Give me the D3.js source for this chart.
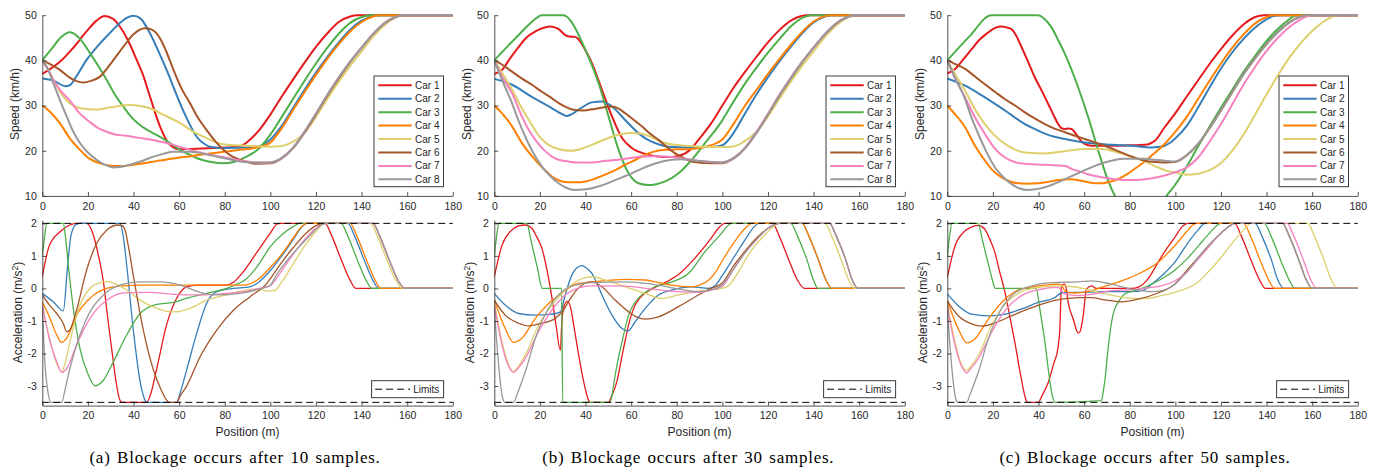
<!DOCTYPE html>
<html><head><meta charset="utf-8">
<script src="https://cdn.jsdelivr.net/npm/d3@7"></script>
<style>
body{margin:0;background:#fff;}
svg{display:block;}
text{font-family:"Liberation Sans",Arial,Helvetica,sans-serif;fill:#262626;}
.cap{font-family:"Liberation Serif","Times New Roman",serif;fill:#000;}
</style></head><body>
<svg id="chart" width="1374" height="474"></svg>
<script>
// ---------- labels / ticks ----------
const cars = ["Car 1","Car 2","Car 3","Car 4","Car 5","Car 6","Car 7","Car 8"];
const carColors = ["#e41a1c","#377eb8","#4daf4a","#ff7f00","#ddd06c","#a65628","#f781bf","#999999"];
const xTicks = [0,20,40,60,80,100,120,140,160,180];
const speedTicks = [10,20,30,40,50];
const accTicks = [-3,-2,-1,0,1,2];
const accLimits = [2,-3.5];
const captions = ["(a) Blockage occurs after 10 samples.","(b) Blockage occurs after 30 samples.","(c) Blockage occurs after 50 samples."];

// ---------- (a) speed ----------
const speedA1 = [[0,37],[4,38.3],[8,39.8],[13.6,42.8],[19.4,46.4],[23.8,48.8],[27.3,49.8],[31,49.2],[34,47.5],[37.5,44.5],[41.4,40.1],[44,37],[47.2,32],[51.6,25.4],[55.3,21.7],[60.4,20.3],[65,20.4],[75,20.6],[84,20.8],[87,21],[90,22],[95,24.5],[100,28],[105,32],[110,35.8],[115,39.5],[120,43],[125,46],[130,48.5],[135,49.7],[138,50],[180,50]];
const speedA2 = [[0,36],[5,35.5],[10,34.3],[12,34.5],[15,36.5],[19.4,40.1],[24,43],[28.2,45.3],[33,47.8],[37,49.4],[40,49.9],[43,49.3],[47.2,46],[50.5,42.5],[54.5,37.9],[60.4,30.5],[64,26.5],[67.7,23.1],[70.5,21.7],[73.5,20.9],[80,20.6],[90,20.7],[95,21],[100,22.5],[105,25.5],[110,29.5],[115,33.5],[120,37.3],[125,40.8],[130,44],[135,46.8],[140,48.8],[145,49.8],[148,50],[180,50]];
const speedA3 = [[0,40],[4,42.5],[8,45],[12.1,46.2],[15,45.5],[18,43.8],[20.9,41.6],[24.5,38.8],[28.2,35.7],[32,32.3],[35.5,29.8],[39,27.5],[42.8,25.7],[46,24.6],[50.1,23.5],[55,22],[60.4,20.2],[65,19],[69.2,18.1],[74,17.5],[79.4,17.2],[84,17.5],[89.6,18.7],[95,20.5],[99.9,23.5],[105,27.5],[110,31.5],[115,35.5],[120,39.3],[125,42.8],[130,45.9],[135,48.3],[140,49.6],[144,50],[180,50]];
const speedA4 = [[0,30],[3,28.8],[7.7,26.1],[12,22.8],[16.5,20.2],[20.5,18.3],[25.3,17.2],[30,16.7],[35,16.6],[42.8,17.1],[50,17.7],[57.5,18.3],[65,18.8],[72,19.3],[80,19.8],[86.7,20.2],[95,20.8],[100,21.8],[105,25],[110,29],[115,33],[120,36.8],[125,40.4],[130,43.6],[135,46.4],[140,48.5],[145,49.7],[148,50],[180,50]];
const speedA5 = [[0,40],[3,37.6],[5,35.6],[9.2,32],[12,30.5],[16,29.5],[20,29.2],[23.8,29.1],[30,29.6],[35,30],[38.5,30.1],[43,29.9],[47.2,29.4],[53,28],[60.4,26.1],[66,24.3],[72,22.8],[76,21.9],[80.8,21.3],[90,21.1],[99.9,20.9],[104,21],[107,21.3],[110,22],[115,24],[120,27.5],[125,31.5],[130,35.3],[135,38.8],[140,42],[145,45.2],[150,47.8],[155,49.5],[158,50],[180,50]];
const speedA6 = [[0,40],[3,39.3],[7.7,37.9],[12,36.2],[15,35.4],[18,35.1],[21,35.4],[25.3,36.4],[30,39.3],[35.5,43],[40,45.8],[45,47.1],[48,46.8],[51.6,44.9],[54.5,41.8],[57.5,37.9],[61,33.8],[64.8,30.5],[68,27.5],[72,24.6],[76,22],[79.4,20.2],[83,18.8],[86.7,18],[90,17.5],[94,17.1],[99.9,17.2],[105,18.3],[110,20.6],[115,24],[120,28],[125,32.2],[130,36],[135,39.6],[140,42.8],[145,45.8],[150,48.2],[155,49.6],[158,50],[180,50]];
const speedA7 = [[0,40],[2.5,38],[4.8,35.7],[8,33.3],[12.1,31.1],[16,28.5],[21,26.3],[24.5,25],[28.2,24.2],[32,23.6],[37,23.3],[42,22.9],[47.2,22.5],[52,22],[57.5,21.3],[62,20.6],[67.7,19.8],[72,19.3],[77.9,18.7],[84,18.1],[89.6,17.6],[95,17.4],[100,17.4],[105,18.4],[110,20.7],[115,24.2],[120,28.2],[125,32.4],[130,36.2],[135,39.7],[140,42.8],[145,45.8],[150,48.2],[155,49.6],[158,50],[180,50]];
const speedA8 = [[0,40],[2.5,38],[4.8,35],[7.5,31.5],[10.7,27.6],[13.5,24.3],[16.5,21.7],[20,19.6],[23.8,18],[27,17],[31.1,16.3],[34,16.4],[38.5,16.9],[43,17.6],[48.7,18.7],[53,19.3],[57.5,19.8],[64.8,19.8],[70,19.4],[76.5,18.7],[82,18.1],[86.7,17.6],[93,17.4],[99.9,17.4],[105,18.4],[110,20.7],[115,24.2],[120,28.2],[125,32.4],[130,36.2],[135,39.7],[140,42.8],[145,45.8],[150,48.2],[155,49.6],[158,50],[180,50]];

// ---------- (a) acceleration ----------
const accA1 = [[0,0.36],[3,1.3],[7.8,1.74],[12,1.95],[15,2],[19.5,2],[22.4,1.64],[24.5,1.05],[26.8,0.2],[28.5,-0.8],[30.4,-1.84],[32.2,-2.8],[34,-3.43],[35,-3.5],[45.8,-3.5],[47.5,-3.25],[50.2,-2.46],[54.5,-1.12],[58.9,-0.3],[63.3,0.05],[68,0.1],[80,0.1],[84,0.2],[88,0.5],[94,1.1],[100,1.7],[103,1.98],[104.5,2],[124,2],[127,1.6],[131,0.9],[135,0.25],[137.5,0],[180,0]];
const accA2 = [[0,-0.15],[4.8,-0.41],[9.2,-0.69],[11,0.6],[12.5,1.6],[14.5,1.95],[16.5,2],[34,2],[35.5,1.6],[37,0.72],[40,-1.33],[42.9,-2.87],[45.5,-3.48],[46,-3.5],[59,-3.5],[60.5,-3.2],[63.3,-2.5],[67.7,-1.38],[72,-0.46],[76.5,-0.1],[83.8,0],[91,0.05],[95,0.2],[100,0.55],[105,1.0],[110,1.5],[114,1.9],[116,2],[134,2],[137,1.6],[141,0.9],[145,0.25],[147.5,0],[180,0]];
const accA3 = [[0,1.0],[1,1.6],[2,2],[9.2,2],[10.3,1.5],[11.4,0.72],[13.6,-0.61],[16.5,-1.84],[20.2,-2.66],[23.1,-2.99],[26.8,-2.82],[31.2,-2.25],[37,-1.43],[42.9,-0.77],[50.2,-0.49],[57.5,-0.43],[63.3,-0.3],[72,-0.15],[80.8,0],[85,0.12],[89.6,0.3],[95,0.75],[99.9,1.28],[105,1.65],[110,1.9],[113,2],[131,2],[134,1.6],[138,0.9],[142,0.25],[144.5,0],[180,0]];
const accA4 = [[0,-0.41],[3.4,-0.92],[6.3,-1.43],[8.5,-1.66],[10.7,-1.53],[15,-0.82],[20.9,-0.3],[28.2,0],[35.5,0.08],[42.9,0.1],[60,0.1],[79.4,0.1],[86,0.1],[90,0.12],[95,0.3],[100,0.65],[105,1.05],[110,1.55],[114,1.92],[116,2],[135,2],[138,1.6],[142,0.9],[146,0.25],[148.5,0],[180,0]];
const accA5 = [[0,-0.5],[3.4,-1.6],[6.3,-2.3],[8.5,-2.56],[10,-2.3],[12.1,-1.64],[16.5,-0.51],[20.9,0],[25,0.17],[29,0.21],[32,0.14],[37,-0.05],[42.9,-0.36],[50.2,-0.61],[57.5,-0.72],[64.8,-0.61],[72,-0.36],[80.8,-0.2],[89.6,-0.05],[95,-0.02],[99,-0.08],[102,-0.06],[105,0.2],[110,0.75],[115,1.3],[120,1.75],[124,2],[144,2],[147,1.6],[151,0.9],[155,0.25],[158,0],[180,0]];
const accA6 = [[0,-0.2],[3,-0.5],[6.3,-0.77],[9.2,-1.08],[10.7,-1.33],[12,-1.28],[15,-0.67],[19.4,0.56],[23.8,1.38],[28.2,1.79],[33.3,1.95],[35,1.93],[36.3,1.79],[38,1.2],[40,0.36],[44.3,-1.28],[48.7,-2.5],[52,-3.1],[54.5,-3.43],[55.5,-3.5],[59,-3.5],[60.5,-3.3],[63.3,-3.0],[69.2,-2.1],[76.5,-1.28],[83.8,-0.67],[91,-0.26],[98.4,0.15],[102,0.5],[106,0.9],[110,1.25],[115,1.65],[120,1.93],[124,2],[145,2],[148,1.6],[152,0.9],[156,0.25],[159,0],[180,0]];
const accA7 = [[0,-0.5],[3.4,-1.64],[6.3,-2.25],[8.5,-2.58],[10.7,-2.46],[15,-1.74],[20.9,-0.92],[28.2,-0.36],[37,-0.13],[47.2,-0.12],[57.5,-0.18],[69.2,-0.2],[80.8,-0.15],[89.6,-0.08],[95,0],[99.9,0.08],[105,0.55],[110,1.05],[115,1.5],[120,1.85],[124,2],[145,2],[148,1.6],[152,0.9],[156,0.25],[159,0],[180,0]];
const accA8 = [[0,-0.6],[1.2,-2.35],[2.5,-3.2],[3.8,-3.5],[8.5,-3.5],[10,-3.1],[12.1,-2.46],[16.5,-1.43],[20.9,-0.72],[26.8,-0.2],[34,0.1],[42.9,0.2],[51.6,0.2],[60.4,0.1],[69.2,-0.12],[76.5,-0.2],[86.7,-0.15],[95,-0.02],[99.9,0.1],[103,0.45],[110,1.08],[117,1.6],[121,1.88],[124,2],[145,2],[148,1.6],[152,0.9],[156,0.25],[159,0],[180,0]];

// ---------- (b) speed ----------
const speedB1 = [[0,37],[3.4,37.9],[7,40.5],[10.7,43],[14,45],[18,46.4],[21,47.1],[24.5,47.5],[26.5,47.3],[28.2,46.9],[31.1,45.6],[33,45.3],[35.5,45.2],[37.5,44.3],[39.1,43],[42.8,39.4],[47.2,33.5],[51.6,27.6],[56,22.8],[60.3,20.6],[66.2,19.3],[71,18.8],[76.4,18.6],[80,18.8],[83.7,19.4],[86.5,20.5],[89.5,22.4],[95,26],[100,30],[105,34],[110,37.5],[115,40.8],[120,44],[125,46.7],[130,48.8],[135,49.9],[137,50],[180,50]];
const speedB2 = [[0,35.9],[7.8,34.6],[16.5,31.9],[25.3,29.4],[29,28.3],[31.8,27.7],[34,28.1],[37,29.1],[42.8,30.7],[47.2,30.9],[51.6,29.8],[57.4,26.8],[63.2,23.9],[67,22.5],[70.5,21.7],[77.8,20.8],[86.6,20.7],[95,20.8],[100,21.2],[105,24],[110,28.3],[115,32.5],[120,36.3],[125,39.8],[130,43],[135,46],[140,48.4],[145,49.7],[148,50],[180,50]];
const speedB3 = [[0,40],[9.5,45],[19.4,49.7],[20.5,50],[30.4,50],[32,49.6],[34.1,48.3],[39.9,42.4],[45.7,35],[50.1,27.6],[54.5,20.2],[58.9,15],[63.2,12.8],[67.6,12.4],[71,12.6],[74.9,13.2],[80.8,15],[86.6,18],[92.4,21.7],[99.7,26.5],[104,30.1],[110,34.9],[115,38.4],[120,41.7],[125,44.7],[130,47.5],[135,49.4],[139,50],[180,50]];
const speedB4 = [[0,30],[3,28.5],[7.8,25.4],[12,21.8],[16.5,18.8],[21,16.3],[25.3,14.3],[29,13.3],[32.6,13],[36,13],[39.9,13.2],[44,13.8],[48.6,14.7],[53,15.7],[57.4,16.9],[62,18],[66.2,19.1],[70,19.8],[74.9,20.2],[80,20.3],[86.6,20.4],[90,20.6],[95,21.2],[100,22.5],[105,26],[110,30],[115,33.5],[120,37],[125,40.3],[130,43.4],[135,46.3],[140,48.6],[145,49.8],[148,50],[180,50]];
const speedB5 = [[0,40],[3.4,37.2],[7.8,33.5],[12.1,29.4],[16.5,25.7],[20,23],[23.8,21.3],[28,20.4],[34.1,20],[38,20.4],[42.8,21.3],[47,22.2],[51.6,23.1],[56,23.7],[60.3,23.9],[64,23.8],[67.6,23.3],[71,22.5],[74.9,21.7],[79,21.3],[83.7,21.1],[90,20.9],[99.7,20.8],[104,20.9],[107,21.3],[110,22.2],[115,24.2],[120,27.6],[125,31.5],[130,35.3],[135,38.8],[140,42],[145,45.2],[150,47.8],[155,49.5],[158,50],[180,50]];
const speedB6 = [[0,40],[3,39.2],[7.8,37.5],[12,36],[16.5,34.6],[21,33],[25.3,31.6],[29,30.3],[32.6,29.4],[35.5,29],[38.4,28.9],[42,29.1],[45.7,29.4],[49,29.7],[51.6,29.8],[54.5,29.3],[57.4,28.3],[61,26.9],[64.7,25.4],[68,23.9],[72,22.4],[75.5,20.9],[79.3,19.4],[83,18.4],[86.6,17.6],[92,17.3],[99.7,17.2],[105,18.3],[110,20.6],[115,24],[120,28],[125,32.2],[130,36],[135,39.6],[140,42.8],[145,45.8],[150,48.2],[155,49.6],[158,50],[180,50]];
const speedB7 = [[0,40],[3.4,36.4],[7.8,32.7],[12.1,27.6],[15,24.7],[18,22.4],[21.5,20.3],[25.3,18.7],[29,17.9],[32.6,17.6],[37,17.4],[42.8,17.4],[48,17.7],[54.5,18],[60,18.4],[64.7,18.7],[70,18.8],[74.9,18.7],[80,18.5],[86.6,18],[92,17.6],[99.7,17.4],[105,18.4],[110,20.7],[115,24.2],[120,28.2],[125,32.4],[130,36.2],[135,39.7],[140,42.8],[145,45.8],[150,48.2],[155,49.6],[158,50],[180,50]];
const speedB8 = [[0,40],[3.4,35.7],[7.8,30.5],[10.5,26.8],[13.6,23.1],[17,19.6],[20.9,16.5],[24.5,14.4],[28.2,12.8],[31.5,11.8],[35.5,11.3],[39,11.4],[42.8,11.7],[47,12.3],[51.6,13.2],[56,14.1],[60.3,15],[64.5,16],[69,16.9],[73,17.5],[77.8,18],[82,18.1],[86.6,17.9],[93,17.6],[99.7,17.4],[105,18.4],[110,20.6],[115,24],[120,28],[125,32.2],[130,36],[135,39.6],[140,42.8],[145,45.8],[150,48.2],[155,49.6],[158,50],[180,50]];

// ---------- (b) acceleration ----------
const accB1 = [[0,0.36],[3.4,1.33],[7.8,1.8],[11,1.93],[13.6,1.95],[16.5,1.85],[18.5,1.6],[20.9,1.23],[23,0.6],[25.3,-0.3],[27,-1.1],[29,-1.9],[29.5,-1.2],[30.3,-0.6],[32,-0.4],[33.3,-0.55],[35,-1.2],[37,-2.05],[39,-2.8],[41.3,-3.43],[42,-3.5],[50,-3.5],[51.5,-3.3],[53.6,-2.9],[56.5,-1.9],[59.4,-0.98],[61.5,-0.55],[63.8,-0.3],[68.2,-0.05],[75.5,0.2],[81.3,0.46],[87.2,0.87],[94.5,1.49],[99,1.9],[101,2],[122,2],[125,1.6],[129,0.9],[133,0.25],[136,0],[180,0]];
const accB2 = [[0,-0.15],[4.8,-0.51],[10.7,-0.77],[18,-0.82],[23.8,-0.8],[27,-0.77],[29,-0.72],[31.1,-0.2],[34,0.41],[36,0.62],[38.4,0.7],[40.5,0.62],[42.8,0.46],[45,0.15],[47.2,-0.2],[51.6,-0.82],[56,-1.23],[58.6,-1.31],[61.8,-1.02],[66.2,-0.61],[72,-0.2],[77.8,-0.05],[86.6,0.05],[93.9,0],[97,0.1],[100,0.4],[105,0.95],[110,1.5],[114,1.9],[116,2],[135,2],[138,1.6],[142,0.9],[145.5,0.25],[148,0],[180,0]];
const accB3 = [[0,1],[1,1.6],[2,2],[14.3,2],[16,1.5],[19,0.6],[21,0],[29.5,0],[30,-3.5],[50.8,-3.5],[51.8,-3.2],[53,-2.66],[56,-1.64],[58.9,-0.82],[61,-0.5],[63.2,-0.3],[69,0],[77.8,0.2],[85.1,0.46],[92.4,1.13],[99.7,1.7],[102,1.9],[104,2],[130,2],[133,1.6],[137,0.9],[140,0.25],[142,0],[180,0]];
const accB4 = [[0,-0.36],[4.8,-1.23],[8.5,-1.66],[12.1,-1.53],[18,-0.92],[23.8,-0.46],[29.6,-0.15],[35.5,0.13],[42.8,0.2],[50,0.25],[57.4,0.28],[66.2,0.26],[72,0.18],[77.8,0.1],[86.6,0.05],[90,0.1],[93.9,0.25],[97,0.5],[99.7,0.82],[105,1.4],[110,1.85],[113,2],[135,2],[138,1.6],[142,0.9],[145.5,0.25],[148,0],[180,0]];
const accB5 = [[0,-0.46],[3.4,-1.64],[6,-2.3],[8.5,-2.55],[10.5,-2.4],[13.6,-2.05],[19.4,-1.13],[25.3,-0.51],[31.1,-0.05],[37,0.26],[42.8,0.36],[48.6,0.26],[57.4,0.05],[66.2,-0.15],[73.5,-0.31],[80.8,-0.2],[89.5,-0.08],[99.7,0],[103,0.1],[107,0.5],[112,1.1],[118,1.6],[122,1.88],[125,2],[145,2],[148,1.6],[152,0.9],[155.5,0.25],[158,0],[180,0]];
const accB6 = [[0,-0.36],[4.8,-0.82],[10.7,-1.07],[15,-1.15],[20.9,-1.07],[26.7,-0.92],[30.4,-0.66],[33,-0.35],[35.5,-0.1],[39.9,0.16],[42.8,0.2],[47.2,0.05],[53,-0.36],[58.9,-0.72],[62.5,-0.88],[66.2,-0.94],[72,-0.87],[80.8,-0.56],[89.5,-0.2],[95,0],[99.7,0.15],[105,0.7],[110,1.15],[115,1.55],[120,1.85],[125,2],[147,2],[150,1.6],[154,0.9],[157,0.25],[159.5,0],[180,0]];
const accB7 = [[0,-0.5],[3.4,-1.74],[6,-2.35],[8.5,-2.58],[10.5,-2.45],[13.6,-2.15],[19.4,-1.33],[25.3,-0.66],[31.1,-0.2],[37,0.02],[42.8,0.08],[57.4,0.07],[69,-0.02],[80.8,-0.1],[89.5,-0.12],[95,-0.05],[99.7,0.05],[105,0.6],[110,1.1],[115,1.5],[120,1.85],[125,2],[147,2],[150,1.6],[154,0.9],[157,0.25],[159.5,0],[180,0]];
const accB8 = [[0,-0.6],[1.9,-2.35],[3,-3.1],[4.1,-3.46],[4.6,-3.5],[8.5,-3.5],[10,-3.25],[13.6,-2.56],[18,-1.53],[23.8,-0.61],[29.6,-0.1],[35.5,0.1],[42.8,0.18],[57.4,0.2],[67.6,0.15],[77.8,0.02],[89.5,-0.1],[95,-0.05],[99.7,0.1],[105,0.6],[110,1.1],[115,1.5],[120,1.85],[125,2],[147,2],[150,1.6],[154,0.9],[157,0.25],[159.5,0],[180,0]];

// ---------- (c) speed ----------
const speedC1 = [[0,37.1],[3.4,38.1],[7,40.2],[10.7,42.5],[14,44.5],[18,46.2],[21,47.2],[23.8,47.5],[26,47.3],[28.2,46.9],[30.5,45.2],[32.6,42.9],[35.5,39.6],[38.4,36.2],[41.5,33.2],[44.3,30.3],[46.5,28],[48.6,25.9],[50,25],[51.6,24.8],[53,24.9],[54.5,24.8],[56,24],[57.4,23],[59,22],[60.3,21.5],[63.2,21.1],[72,21.1],[80,21.2],[86.6,21.3],[89,21.6],[91,22.2],[95.3,25.2],[99.7,28.1],[105,32],[110,35.6],[115,39.2],[120,42.5],[125,45.5],[130,48],[135,49.6],[139,50],[180,50]];
const speedC2 = [[0,36],[7.8,34.4],[16.5,31.8],[25.3,28.9],[34,25.9],[38.5,24.8],[42.8,23.8],[47,23.1],[51.6,22.6],[60.3,21.8],[72,21.3],[80.8,21.1],[89.5,20.7],[92.5,20.8],[95.3,21.1],[97.5,21.7],[99.7,22.6],[105,25.5],[110,29.6],[115,34],[120,38.2],[125,41.8],[130,44.8],[135,47.3],[140,49.1],[143,49.8],[146,50],[180,50]];
const speedC3 = [[0,40],[9.5,45.2],[19.4,50],[39.9,50],[42.5,49.2],[45.7,47.3],[48.5,44.6],[51.6,41.4],[57.4,34],[61.8,27.4],[66.2,20],[70.5,13.4],[73.5,10],[77,7],[82,5.2],[86,5],[90,6],[93,7.8],[96.1,10],[99.7,12.3],[105,16.5],[110,21],[115,25.3],[120,29.5],[125,33.5],[130,37.5],[135,41],[140,44.3],[145,47],[150,49.1],[153,50],[180,50]];
const speedC4 = [[0,30],[3,28.3],[7.8,25.2],[12,21.2],[16.5,17.8],[20,15.6],[23.8,14.1],[27.5,13.2],[31.1,12.8],[35,12.7],[39.9,12.8],[44,13.1],[48.6,13.5],[54.5,13.7],[58,13.4],[61.8,13],[65,12.8],[67.6,12.8],[71,13.1],[74.9,13.7],[78.5,14.7],[82.2,16],[86,17.4],[89.5,18.9],[95.3,21.5],[99.7,24],[105,27.5],[110,31.5],[115,35.5],[120,39.3],[125,42.8],[130,45.8],[135,48.2],[140,49.6],[143,50],[180,50]];
const speedC5 = [[0,40],[3.4,37],[7.8,33.3],[12,29.3],[16.5,25.9],[20.5,23.5],[25.3,21.5],[29.5,20.3],[34,19.6],[42.8,19.4],[51.6,19.9],[60.3,20.4],[67.6,20.4],[71,20.1],[74.9,19.6],[79,19],[83.5,18.2],[88,17.3],[92.4,16.3],[96,15.6],[99.7,15.2],[105,14.7],[110,14.9],[115,15.7],[120,17.3],[125,20],[130,23.7],[135,28],[140,32.5],[145,36.7],[150,40.6],[155,43.8],[160,46.5],[165,48.6],[170,49.9],[172,50],[180,50]];
const speedC6 = [[0,40],[3,39.3],[7.8,38.1],[12,36.5],[16.5,34.7],[21,33],[25.3,31.4],[30,29.9],[34,28.5],[38.5,27.1],[42.8,25.9],[47,24.9],[51.6,24.1],[56,23.3],[60.3,22.6],[65,21.8],[69,21.1],[73.5,20.2],[77.8,19.3],[82,18.5],[86.6,17.8],[91,17.5],[95.3,17.4],[99.7,17.5],[105,19],[110,21.5],[115,25],[120,28.9],[125,33],[130,37],[135,40.5],[140,43.6],[145,46.3],[150,48.4],[155,49.7],[158,50],[180,50]];
const speedC7 = [[0,40],[3.4,36],[7.8,31.8],[12,27.5],[16.5,23.7],[20.5,20.7],[25.3,18.5],[29.5,17.5],[34,17.1],[42.8,16.9],[50.1,16.7],[52.5,16.5],[54.5,16],[58,15.4],[61.8,14.8],[65,14.4],[69,14],[73,13.7],[77.8,13.5],[82,13.5],[86.6,13.7],[91,14],[95.3,14.5],[99.7,15.2],[105,16.3],[110,18.5],[115,22],[120,25.9],[125,30.3],[130,34.7],[135,38.6],[140,42.1],[145,45],[150,47.4],[155,49.1],[158,49.8],[161,50],[180,50]];
const speedC8 = [[0,40],[3.4,36.2],[7.8,31.4],[10.5,27.5],[13.6,23.7],[17,19.9],[20.9,16.3],[24.5,14.2],[28.2,12.6],[31.5,11.7],[35.5,11.3],[39,11.5],[42.8,11.9],[47,12.7],[51.6,13.7],[56,14.7],[60.3,15.7],[64.5,16.6],[69,17.4],[73,17.9],[77.8,18.2],[86.6,18.2],[91,18],[95.3,17.8],[99.7,17.6],[105,19],[110,21.5],[115,25],[120,28.9],[125,33],[130,37],[135,40.5],[140,43.6],[145,46.3],[150,48.4],[155,49.7],[158,50],[180,50]];

// ---------- (c) acceleration ----------
const accC1 = [[0,0.34],[3.4,1.31],[7.8,1.77],[11,1.9],[13.6,1.94],[16.5,1.82],[18.7,1.5],[20.9,1.1],[23,0.5],[25.3,-0.12],[27.5,-0.9],[29.6,-1.65],[32,-2.6],[34.8,-3.47],[35.3,-3.5],[39.9,-3.5],[41.5,-3.3],[44.3,-2.88],[46.5,-2.35],[48.6,-1.8],[49.3,-1.3],[50.1,0.08],[51.3,0.13],[52,0.05],[53,-0.43],[55.2,-0.94],[57.4,-1.37],[58,-1.35],[59.6,-0.84],[61,-0.02],[63.2,0.08],[65.4,0],[72,0],[80.8,0],[84,0.05],[86.6,0.18],[89.5,0.45],[92.4,0.8],[96,1.2],[99.7,1.56],[103,1.9],[105.5,2],[126,2],[129,1.6],[133,0.9],[137,0.25],[139.5,0],[180,0]];
const accC2 = [[0,-0.17],[4.8,-0.53],[10.7,-0.79],[18,-0.84],[25.3,-0.79],[32.6,-0.63],[39.9,-0.43],[47.2,-0.28],[50.1,-0.14],[57.4,-0.12],[72,-0.1],[80.8,-0.1],[86,-0.05],[90,0.15],[95,0.45],[99.7,0.8],[105,1.35],[110,1.8],[113,2],[135,2],[138,1.6],[142,0.9],[145,0.25],[147.5,0],[180,0]];
const accC3 = [[0,1],[1,1.6],[2,2],[13.5,2],[15.5,1.45],[18,0.75],[20,0.2],[21,0],[39,0],[40.5,-0.6],[42.8,-1.65],[44.5,-2.6],[45.7,-3.18],[47.2,-3.5],[67.6,-3.45],[68.3,-3.2],[69,-2.88],[70.5,-1.86],[72,-1.04],[73.3,-0.65],[74.9,-0.43],[77.8,-0.17],[82.2,-0.07],[88,0.08],[93.9,0.29],[99.7,0.56],[105,0.9],[110,1.3],[115,1.7],[118,1.92],[120,2],[139,2],[142,1.6],[146,0.9],[150,0.25],[152.5,0],[180,0]];
const accC4 = [[0,-0.38],[4.8,-1.24],[8.5,-1.67],[12.1,-1.55],[18,-0.94],[23.8,-0.43],[29.6,-0.1],[37,0.05],[42.8,0.1],[48.6,0.13],[50,0.1],[51.6,-0.08],[55.9,-0.14],[61.8,-0.1],[67.6,0.03],[76.4,0.23],[85.1,0.49],[92.4,0.8],[99.7,1.31],[105,1.75],[108,1.97],[109.5,2],[130,2],[133,1.6],[137,0.9],[141,0.25],[143.5,0],[180,0]];
const accC5 = [[0,-0.48],[3.4,-1.65],[6,-2.3],[8.5,-2.52],[10.5,-2.38],[13.6,-2.06],[19.4,-1.14],[25.3,-0.48],[32.6,-0.1],[39.9,0.03],[47.2,0.08],[54.5,0.06],[61.8,-0.04],[69,-0.17],[77.8,-0.28],[86.6,-0.31],[93.9,-0.22],[99.7,-0.12],[105,0],[110,0.2],[115,0.55],[120,0.95],[125,1.4],[130,1.8],[133,2],[158,2],[161,1.6],[165,0.9],[168.5,0.25],[171,0],[180,0]];
const accC6 = [[0,-0.38],[4.8,-0.84],[10.7,-1.09],[15,-1.16],[20.9,-1.06],[28.2,-0.84],[35.5,-0.63],[42.8,-0.45],[50.1,-0.33],[57.4,-0.28],[63.2,-0.28],[69,-0.35],[76.4,-0.41],[83.7,-0.33],[92.4,-0.14],[99.7,0.13],[105,0.55],[110,0.95],[115,1.35],[120,1.7],[124,1.93],[126,2],[147,2],[150,1.6],[154,0.9],[157.5,0.25],[160,0],[180,0]];
const accC7 = [[0,-0.53],[3.4,-1.76],[6,-2.35],[8.5,-2.59],[10.5,-2.45],[13.6,-2.16],[19.4,-1.35],[25.3,-0.68],[32.6,-0.22],[39.9,-0.04],[48.6,0.03],[50.5,-0.1],[51.6,-0.17],[57.4,-0.22],[64.7,-0.17],[72,-0.07],[80.8,-0.04],[89.5,0.03],[95,0.1],[99.7,0.23],[105,0.5],[110,0.9],[115,1.3],[120,1.7],[124,1.93],[126,2],[149,2],[152,1.6],[156,0.9],[159.5,0.25],[162,0],[180,0]];
const accC8 = [[0,-0.6],[1.9,-2.37],[3,-3.1],[4.1,-3.47],[4.6,-3.5],[8.5,-3.5],[10,-3.25],[13.6,-2.57],[18,-1.55],[23.8,-0.61],[29.6,-0.14],[37,0.08],[45.7,0.18],[57.4,0.2],[63.2,0.23],[72,0.13],[80.8,-0.02],[89.5,-0.1],[95,-0.05],[99.7,0.13],[105,0.5],[110,0.95],[115,1.35],[120,1.7],[124,1.93],[126,2],[147,2],[150,1.6],[154,0.9],[157.5,0.25],[160,0],[180,0]];

const speedSets = [
  [speedA1,speedA2,speedA3,speedA4,speedA5,speedA6,speedA7,speedA8],
  [speedB1,speedB2,speedB3,speedB4,speedB5,speedB6,speedB7,speedB8],
  [speedC1,speedC2,speedC3,speedC4,speedC5,speedC6,speedC7,speedC8]
];
const accSets = [
  [accA1,accA2,accA3,accA4,accA5,accA6,accA7,accA8],
  [accB1,accB2,accB3,accB4,accB5,accB6,accB7,accB8],
  [accC1,accC2,accC3,accC4,accC5,accC6,accC7,accC8]
];

// ---------- layout ----------
const svg = d3.select("#chart");
const colX0 = [42.3, 494.3, 947.3];
const plotW = 410.5;
const speedRange = [195.9, 15.2];
const accRange = [405.6, 220.1];
const capX = [235, 688.3, 1145];
const axisColor = "#262626";

function styleAxis(g, fs) {
  g.select(".domain").attr("stroke", axisColor).attr("stroke-width", 0.8);
  g.selectAll(".tick line").attr("stroke", axisColor).attr("stroke-width", 0.8);
  g.selectAll(".tick text").attr("fill", axisColor).style("font-size", fs + "px")
    .style("font-family", '"Liberation Sans",Arial,sans-serif');
}

colX0.forEach((x0, ci) => {
  const x = d3.scaleLinear().domain([0, 180]).range([x0, x0 + plotW]);
  const ys = d3.scaleLinear().domain([10, 50]).range(speedRange);
  const ya = d3.scaleLinear().domain([-3.6, 2.1]).range(accRange);

  svg.append("clipPath").attr("id", "cs" + ci).append("rect")
    .attr("x", x0).attr("y", speedRange[1] - 3).attr("width", plotW + 2).attr("height", speedRange[0] - speedRange[1] + 3);
  svg.append("clipPath").attr("id", "ca" + ci).append("rect")
    .attr("x", x0).attr("y", accRange[1]).attr("width", plotW + 2).attr("height", accRange[0] - accRange[1]);

  // ---- speed panel ----
  const sLine = d3.line().x(d => x(d[0])).y(d => ys(d[1])).curve(d3.curveMonotoneX);
  const gs = svg.append("g").attr("clip-path", `url(#cs${ci})`);
  speedSets[ci].forEach((s, k) => {
    gs.append("path").attr("d", sLine(s)).attr("fill", "none")
      .attr("stroke", carColors[k]).attr("stroke-width", 2).attr("stroke-linejoin", "round");
  });
  const gxs = svg.append("g").attr("transform", `translate(0,${speedRange[0]})`)
    .call(d3.axisBottom(x).tickValues(xTicks).tickSizeInner(-4).tickSizeOuter(0).tickPadding(7).tickFormat(d => String(d)));
  styleAxis(gxs, 10.5);
  const gys = svg.append("g").attr("transform", `translate(${x0},0)`)
    .call(d3.axisLeft(ys).tickValues(speedTicks).tickSizeInner(-4).tickSizeOuter(0).tickPadding(5.5).tickFormat(d => String(d)));
  styleAxis(gys, 10.5);
  svg.append("text").attr("transform", `translate(${x0 - 23.5},104) rotate(-90)`)
    .attr("text-anchor", "middle").style("font-size", "12px").attr("fill", axisColor).text("Speed (km/h)");

  // speed legend
  const lgR = x0 + plotW - 9.3, lgL = lgR - 69.5;
  const lg = svg.append("g");
  lg.append("rect").attr("x", lgL).attr("y", 76).attr("width", lgR - lgL).attr("height", 110.7)
    .attr("fill", "#fff").attr("stroke", "#3a3a3a").attr("stroke-width", 1);
  cars.forEach((c, k) => {
    const yy = 85.3 + k * 13.43;
    lg.append("line").attr("x1", lgL + 4.3).attr("x2", lgL + 37.7).attr("y1", yy).attr("y2", yy)
      .attr("stroke", carColors[k]).attr("stroke-width", 2);
    lg.append("text").attr("x", lgL + 41).attr("y", yy).attr("dy", "0.36em")
      .style("font-size", "10px").attr("fill", "#1a1a1a").text(c);
  });

  // ---- acceleration panel ----
  const aLine = d3.line().x(d => x(d[0])).y(d => ya(d[1])).curve(d3.curveMonotoneX);
  const ga = svg.append("g").attr("clip-path", `url(#ca${ci})`);
  accSets[ci].forEach((s, k) => {
    ga.append("path").attr("d", aLine(s)).attr("fill", "none")
      .attr("stroke", carColors[k]).attr("stroke-width", 1.3).attr("stroke-linejoin", "round");
  });
  accLimits.forEach(v => {
    svg.append("line").attr("x1", x(0)).attr("x2", x(180)).attr("y1", ya(v)).attr("y2", ya(v))
      .attr("stroke", "#000").attr("stroke-width", 1).attr("stroke-dasharray", "7,4");
  });
  const gxa = svg.append("g").attr("transform", `translate(0,${accRange[0]})`)
    .call(d3.axisBottom(x).tickValues(xTicks).tickSizeInner(-4).tickSizeOuter(0).tickPadding(6).tickFormat(d => String(d)));
  styleAxis(gxa, 10.5);
  const gya = svg.append("g").attr("transform", `translate(${x0},0)`)
    .call(d3.axisLeft(ya).tickValues(accTicks).tickSizeInner(-4).tickSizeOuter(0).tickPadding(5.5).tickFormat(d => String(d)));
  styleAxis(gya, 10.5);
  const at = svg.append("text").attr("transform", `translate(${x0 - 20},312.5) rotate(-90)`)
    .attr("text-anchor", "middle").style("font-size", "12px").attr("fill", axisColor);
  at.append("tspan").text("Acceleration (m/s");
  at.append("tspan").attr("dy", -4.5).style("font-size", "8.5px").text("2");
  at.append("tspan").attr("dy", 4.5).text(")");

  svg.append("text").attr("x", x0 + plotW / 2).attr("y", 436).attr("text-anchor", "middle")
    .style("font-size", "12px").attr("fill", axisColor).text("Position (m)");

  // limits legend
  const llR = x0 + plotW - 9.2, llL = llR - 72;
  svg.append("rect").attr("x", llL).attr("y", 380.7).attr("width", 72).attr("height", 17)
    .attr("fill", "#fff").attr("stroke", "#3a3a3a").attr("stroke-width", 1);
  svg.append("line").attr("x1", llL + 3.5).attr("x2", llL + 38.5).attr("y1", 389.2).attr("y2", 389.2)
    .attr("stroke", "#000").attr("stroke-width", 1).attr("stroke-dasharray", "7,4");
  svg.append("text").attr("x", llL + 41.6).attr("y", 389.2).attr("dy", "0.36em")
    .style("font-size", "10px").attr("fill", "#1a1a1a").text("Limits");

  // caption
  svg.append("text").attr("class", "cap").attr("x", capX[ci]).attr("y", 463)
    .attr("text-anchor", "middle").style("font-size", "17px")
    .style("letter-spacing", "0.75px").style("word-spacing", "1.5px").text(captions[ci]);
});
</script>
</body></html>
